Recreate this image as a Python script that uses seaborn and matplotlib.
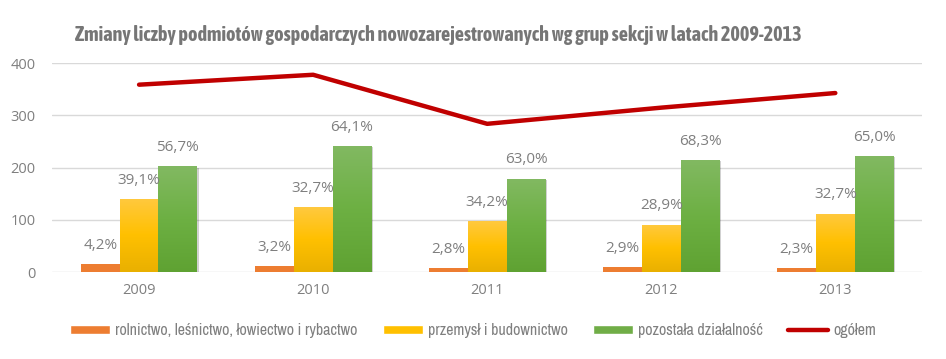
import numpy as np
import pandas as pd
import matplotlib
matplotlib.use("Agg")
import matplotlib.pyplot as plt
import matplotlib.patheffects as pe
from matplotlib.patches import Patch
from matplotlib.lines import Line2D
from matplotlib.colors import LinearSegmentedColormap
import seaborn as sns

years = ["2009", "2010", "2011", "2012", "2013"]
series_names = ["rolnictwo, leśnictwo, łowiectwo i rybactwo",
                "przemysł i budownictwo",
                "pozostała działalność"]
rolnictwo = [15, 12, 8, 9, 8]
przemysl = [140, 124, 97, 91, 112]
pozostala = [203, 242, 179, 215, 223]
ogolem = [359, 378, 284, 315, 343]
rolnictwo_lbl = ["4,2%", "3,2%", "2,8%", "2,9%", "2,3%"]
przemysl_lbl = ["39,1%", "32,7%", "34,2%", "28,9%", "32,7%"]
pozostala_lbl = ["56,7%", "64,1%", "63,0%", "68,3%", "65,0%"]
line_name = "ogółem"
title = "Zmiany liczby podmiotów gospodarczych nowozarejestrowanych wg grup sekcji w latach 2009-2013"
yticks = [0, 100, 200, 300, 400]

sns.set_theme(style="white")
narrow = ["Archivo Narrow", "Liberation Sans Narrow", "DejaVu Sans"]
narrow_bold = ["Asap Condensed", "Archivo Narrow", "DejaVu Sans"]
plt.rcParams["font.family"] = ["Open Sans", "DejaVu Sans"]

grey = "#7F7F7F"
c_orange = "#ED7D31"
c_yellow = "#FFC000"
c_green = "#70AD47"
c_red = "#C00000"

rows = []
for name, vals in zip(series_names, [rolnictwo, przemysl, pozostala]):
    for y, v in zip(years, vals):
        rows.append({"rok": y, "seria": name, "wartosc": v})
df = pd.DataFrame(rows)

fig = plt.figure(figsize=(9.46, 3.59), dpi=100)
ax = fig.add_axes([0.055, 0.2423, 0.92, 0.5814])

ax.set_axisbelow(True)
ax.yaxis.grid(True, color="#D9D9D9", linewidth=1.0)

sns.barplot(data=df, x="rok", y="wartosc", hue="seria", order=years,
            hue_order=series_names,
            palette=[c_orange, c_yellow, c_green], width=0.67, gap=0,
            saturation=1, ax=ax, legend=False, linewidth=0)

grad_yellow = LinearSegmentedColormap.from_list("gy", ["#E9B000", "#FFC000", "#FFC93F"])
grad_green = LinearSegmentedColormap.from_list("gg", ["#5FA232", "#6DB043", "#82B962"])
grads = [None, grad_yellow, grad_green]
labels_all = [rolnictwo_lbl, przemysl_lbl, pozostala_lbl]

ax.set_ylim(0, 400)
ax.set_xlim(-0.5, len(years) - 0.5)

for ci, cont in enumerate(ax.containers):
    for bar, lbl in zip(cont.patches, labels_all[ci]):
        bar.set_path_effects([pe.SimplePatchShadow(offset=(1.2, -1.2), alpha=0.18, shadow_rgbFace="#000000"), pe.Normal()])
        x0 = bar.get_x(); w = bar.get_width(); h = bar.get_height()
        if grads[ci] is not None:
            grad = np.linspace(0, 1, 256).reshape(-1, 1)
            im = ax.imshow(grad, cmap=grads[ci], origin="lower", aspect="auto",
                           extent=[x0, x0 + w, 0, h], zorder=bar.get_zorder() + 0.1)
            im.set_clip_path(bar)
        ax.annotate(lbl, (x0 + w / 2, h), xytext=(0, 8), textcoords="offset points",
                    ha="center", va="bottom", color=grey, fontsize=11)

xpos = np.arange(len(years))
sns.lineplot(x=xpos, y=ogolem, ax=ax, color=c_red, linewidth=3.2,
             solid_capstyle="round", zorder=5)
ax.set_xlim(-0.5, len(years) - 0.5)
ax.set_ylim(0, 400)

ax.set_yticks(yticks)
ax.set_xticks(xpos)
ax.set_xticklabels(years)
ax.tick_params(axis="both", colors=grey, labelsize=10.5, length=0)
ax.tick_params(axis="y", pad=12)
ax.tick_params(axis="x", pad=8)
ax.set_xlabel("")
ax.set_ylabel("")
for s in ax.spines.values():
    s.set_visible(False)

fig.text(0.079, 0.902, title, fontsize=14.5, fontweight="bold", color="#767676",
         family=narrow_bold, ha="left", va="center")

handles = [Patch(facecolor=c_orange), Patch(facecolor=c_yellow), Patch(facecolor=c_green),
           Line2D([0], [0], color=c_red, linewidth=3.2)]
fig.legend(handles, series_names + [line_name], loc="center", ncol=4,
           bbox_to_anchor=(0.5, 0.08), frameon=False,
           prop={"family": narrow, "size": 11.5}, labelcolor=grey,
           handlelength=2.5, handleheight=0.5, handletextpad=0.3, columnspacing=1.6)

fig.savefig("out.png", dpi=100)
